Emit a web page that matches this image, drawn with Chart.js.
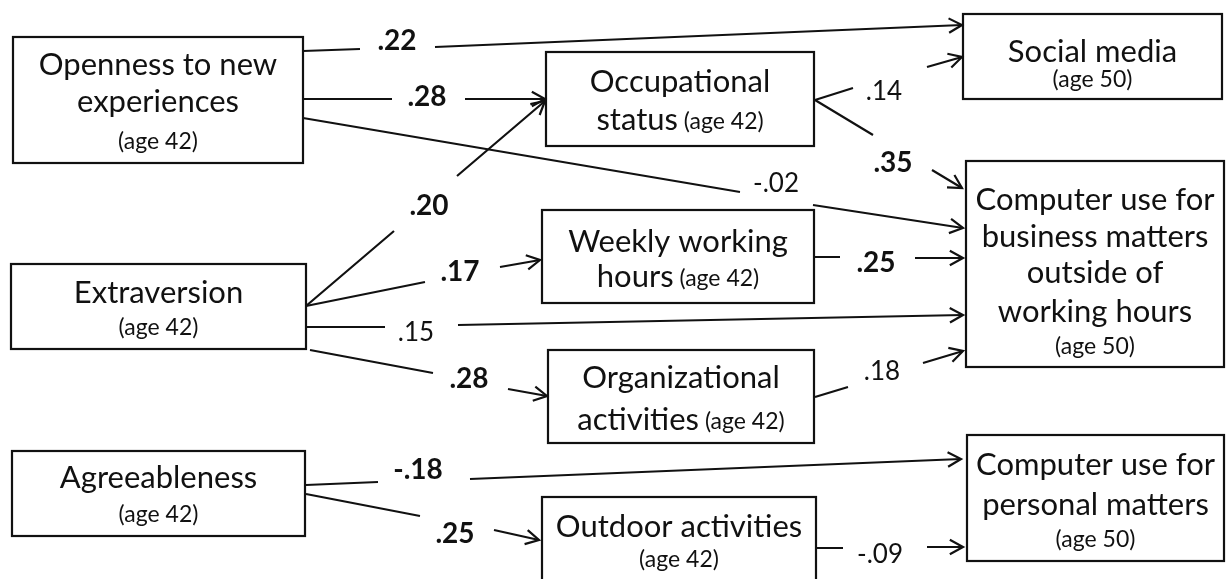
<!DOCTYPE html>
<html>
<head>
<meta charset="utf-8">
<script src="https://cdn.jsdelivr.net/npm/chart.js@4.4.0/dist/chart.umd.min.js"></script>
<style>
  html, body { margin: 0; background: #fff; }
  canvas { display: block; }
</style>
</head>
<body>
<canvas id="diagram" width="1226" height="579"></canvas>
<script>
// node texts (age note in brackets is drawn smaller)
const nodeLabels = [
  ["Openness to new", "experiences", "(age 42)"],
  ["Extraversion", "(age 42)"],
  ["Agreeableness", "(age 42)"],
  ["Occupational", "status (age 42)"],
  ["Weekly working", "hours (age 42)"],
  ["Organizational", "activities (age 42)"],
  ["Outdoor activities", "(age 42)"],
  ["Social media", "(age 50)"],
  ["Computer use for", "business matters", "outside of", "working hours", "(age 50)"],
  ["Computer use for", "personal matters", "(age 50)"],
];

// path coefficients: from node, to node, value, bold = significant
const pathFrom = [0, 0, 0, 3, 3, 1, 1, 1, 1, 4, 5, 2, 2, 6];
const pathTo   = [7, 3, 8, 7, 8, 3, 4, 8, 5, 8, 8, 9, 6, 9];
const coefLabels = [".22", ".28", "-.02", ".14", ".35", ".20", ".17", ".15", ".28", ".25", ".18", "-.18", ".25", "-.09"];
const coefBold = [true, true, false, false, true, true, true, false, true, true, false, true, true, false];

// layout in diagram units (x 0..1226, y 0..579 from the top)
const boxes = [
  [13, 37, 303, 163], [11, 264, 306, 349], [12, 451, 305, 536],
  [546, 52, 814, 146], [542, 210, 814, 303], [548, 350, 814, 443],
  [542, 497, 816, 600], [963, 14, 1222, 99], [966, 161, 1224, 367],
  [967, 435, 1224, 561],
];
const lineYs = [
  [65, 102, 142], [293, 328], [478, 515],
  [82, 120], [242, 277], [378, 420],
  [527, 560], [52, 80], [200, 237, 273, 312, 347],
  [465, 505, 540],
];
// start, gap start, gap end, arrow tip, label centre
const pathGeom = [
  [[303, 51], [360, 49], [435, 47], [962, 25], [397, 40]],
  [[303, 99], [392, 99], [465, 99], [545, 99], [427, 96]],
  [[303, 118], [740, 192], [813, 205], [963, 228], [776, 182]],
  [[815, 100], [853, 88], [927, 67], [962, 57], [884, 90]],
  [[815, 100], [873, 135], [932, 170], [962, 188], [893, 162]],
  [[306, 306], [394, 231], [457, 176], [545, 101], [429, 205]],
  [[306, 306], [425, 282], [500, 267], [540, 260], [460, 271]],
  [[307, 327], [385, 327], [458, 325], [963, 315], [416, 331]],
  [[310, 350], [433, 373], [508, 389], [547, 396], [469, 378]],
  [[814, 257], [840, 257], [915, 258], [963, 258], [876, 262]],
  [[815, 397], [848, 387], [923, 363], [963, 351], [882, 370]],
  [[306, 485], [378, 482], [470, 479], [961, 459], [418, 469]],
  [[306, 494], [420, 516], [494, 530], [539, 540], [455, 533]],
  [[815, 548], [843, 548], [927, 547], [963, 547], [880, 553]],
];

const bigFont = "31px Lato";
const smallFont = "23px Lato";

const diagramPlugin = {
  id: "pathDiagram",
  afterDatasetsDraw(chart) {
    const ctx = chart.ctx;
    const xs = chart.scales.x;
    const ys = chart.scales.y;
    const px = (v) => xs.getPixelForValue(v);
    const py = (v) => ys.getPixelForValue(v);

    ctx.save();
    ctx.strokeStyle = "#111";
    ctx.fillStyle = "#111";
    ctx.lineWidth = 2.2;
    ctx.lineCap = "butt";

    // boxes + texts
    boxes.forEach((b, i) => {
      ctx.strokeRect(px(b[0]), py(b[1]), px(b[2]) - px(b[0]), py(b[3]) - py(b[1]));
      nodeLabels[i].forEach((line, j) => {
        const m = line.match(/^(.*?)(\s*\(age \d+\))?$/);
        const big = m[1];
        const small = m[2] || "";
        ctx.font = bigFont;
        const wBig = ctx.measureText(big).width;
        ctx.font = smallFont;
        const wSmall = ctx.measureText(small).width;
        let x0 = (px(b[0]) + px(b[2])) / 2 - (wBig + wSmall) / 2;
        const yy = py(lineYs[i][j]);
        ctx.textAlign = "left";
        ctx.textBaseline = "middle";
        if (big) {
          ctx.font = bigFont;
          ctx.fillText(big, x0, yy);
          x0 += wBig;
        }
        if (small) {
          ctx.font = smallFont;
          ctx.fillText(small, x0, big ? yy + 2 : yy);
        }
      });
    });

    // paths
    pathGeom.forEach((g, i) => {
      const [p0, g1, g2, p1, lab] = g;
      ctx.beginPath();
      ctx.moveTo(px(p0[0]), py(p0[1]));
      ctx.lineTo(px(g1[0]), py(g1[1]));
      ctx.moveTo(px(g2[0]), py(g2[1]));
      ctx.lineTo(px(p1[0]), py(p1[1]));
      ctx.stroke();

      // open arrow head
      const ang = Math.atan2(py(p1[1]) - py(g2[1]), px(p1[0]) - px(g2[0]));
      const len = 15, spread = 0.5;
      ctx.beginPath();
      ctx.moveTo(px(p1[0]) - len * Math.cos(ang - spread), py(p1[1]) - len * Math.sin(ang - spread));
      ctx.lineTo(px(p1[0]), py(p1[1]));
      ctx.lineTo(px(p1[0]) - len * Math.cos(ang + spread), py(p1[1]) - len * Math.sin(ang + spread));
      ctx.stroke();

      ctx.font = coefBold[i] ? "bold 28px Lato" : "26px Lato";
      ctx.textAlign = "center";
      ctx.textBaseline = "alphabetic";
      ctx.fillText(coefLabels[i], px(lab[0]), py(lab[1]) + 10);
    });
    ctx.restore();
  },
};

new Chart(document.getElementById("diagram"), {
  type: "scatter",
  data: {
    datasets: [{
      data: boxes.map((b, i) => ({ x: (b[0] + b[2]) / 2, y: (b[1] + b[3]) / 2, name: nodeLabels[i][0] })),
      pointRadius: 0,
    }],
  },
  options: {
    responsive: false,
    animation: false,
    layout: { padding: 0 },
    scales: {
      x: { type: "linear", min: 0, max: 1226, display: false },
      y: { type: "linear", min: 0, max: 579, reverse: true, display: false },
    },
    plugins: { legend: { display: false }, tooltip: { enabled: false } },
  },
  plugins: [diagramPlugin],
});
</script>
</body>
</html>
